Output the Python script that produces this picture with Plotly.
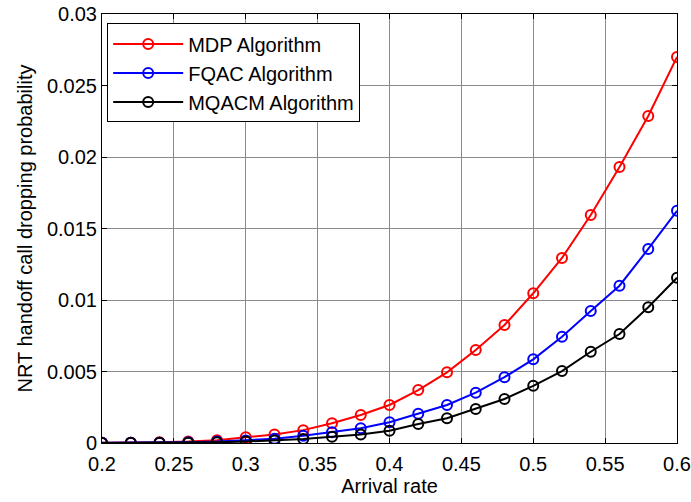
import plotly.graph_objects as go

# Arrival rate samples
arrival_rate = [0.20, 0.22, 0.24, 0.26, 0.28, 0.30, 0.32, 0.34, 0.36, 0.38, 0.40,
                0.42, 0.44, 0.46, 0.48, 0.50, 0.52, 0.54, 0.56, 0.58, 0.60]

# NRT handoff call dropping probability per algorithm
mdp = [0.00001, 0.00002, 0.00005, 0.0001, 0.0002, 0.0004, 0.0006, 0.0009, 0.00138, 0.00196, 0.00266,
       0.0037, 0.00494, 0.0065, 0.00825, 0.01047, 0.01294, 0.01594, 0.0193, 0.02287, 0.02699]
fqac = [0.00001, 0.00001, 0.00002, 0.00005, 0.0001, 0.00018, 0.0003, 0.0005, 0.00075, 0.00103, 0.00145,
        0.00205, 0.00266, 0.00352, 0.0046, 0.00585, 0.00743, 0.00923, 0.011, 0.01357, 0.01624]
mqacm = [0.0, 0.00001, 0.00001, 0.00002, 0.00005, 0.0001, 0.00018, 0.00028, 0.00044, 0.0006, 0.00086,
         0.00133, 0.00173, 0.00238, 0.00308, 0.004, 0.00503, 0.00638, 0.00762, 0.00949, 0.01156]

x_tickvals = [0.2, 0.25, 0.3, 0.35, 0.4, 0.45, 0.5, 0.55, 0.6]
x_ticktext = ["0.2", "0.25", "0.3", "0.35", "0.4", "0.45", "0.5", "0.55", "0.6"]
y_tickvals = [0, 0.005, 0.01, 0.015, 0.02, 0.025, 0.03]
y_ticktext = ["0", "0.005", "0.01", "0.015", "0.02", "0.025", "0.03"]

series = [
    ("MDP Algorithm", mdp, "#ff0000"),
    ("FQAC Algorithm", fqac, "#0000ff"),
    ("MQACM Algorithm", mqacm, "#000000"),
]

fig = go.Figure()
for name, vals, color in series:
    fig.add_trace(go.Scatter(
        x=arrival_rate, y=vals, name=name, mode="lines+markers",
        line=dict(color=color, width=2),
        marker=dict(symbol="circle-open", size=10, color=color, line=dict(width=2, color=color)),
    ))

axis_common = dict(
    showline=True, linecolor="black", linewidth=1, mirror="allticks",
    ticks="inside", ticklen=5, tickcolor="black",
    showgrid=True, gridcolor="#8a8a8a", gridwidth=1,
    zeroline=False, tickfont=dict(size=20, color="black"),
    automargin=False,
)

fig.update_layout(
    width=691, height=502,
    margin=dict(l=102, r=14, t=14, b=59),
    paper_bgcolor="white", plot_bgcolor="white",
    font=dict(family="Liberation Sans, Arial, sans-serif", size=20, color="black"),
    xaxis=dict(range=[0.2, 0.6], tickvals=x_tickvals, ticktext=x_ticktext,
               ticklabelstandoff=3,
               title=dict(text="Arrival rate", standoff=2, font=dict(size=20)), **axis_common),
    yaxis=dict(range=[0, 0.03], tickvals=y_tickvals, ticktext=y_ticktext,
               title=dict(text="NRT handoff call dropping probability", standoff=8, font=dict(size=20)),
               **axis_common),
    legend=dict(x=0.009, y=0.978, xanchor="left", yanchor="top",
                bgcolor="white", bordercolor="black", borderwidth=1,
                font=dict(size=20), tracegroupgap=0, itemwidth=70),
    showlegend=True,
)

fig.write_html("out.html")
